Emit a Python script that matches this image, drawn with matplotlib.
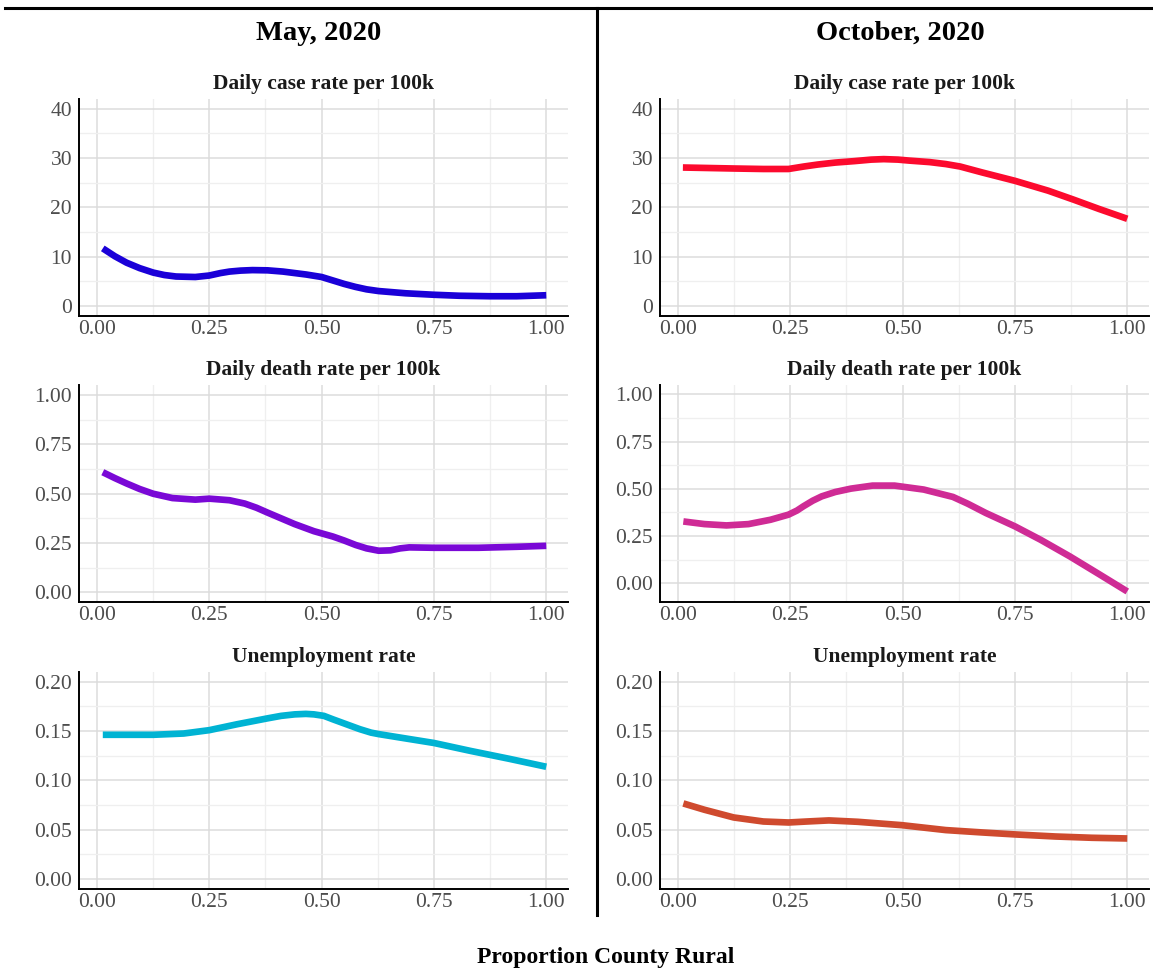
import numpy as np
import matplotlib
matplotlib.use("Agg")
import matplotlib.pyplot as plt
from matplotlib.lines import Line2D
from matplotlib.ticker import MultipleLocator

plt.rcParams['font.family'] = ['Liberation Serif', 'DejaVu Serif']

# Values (x = proportion county rural)
may_case_x = [0.013, 0.04, 0.066, 0.095, 0.125, 0.15, 0.176, 0.219, 0.25, 0.275, 0.295, 0.32, 0.346,
              0.38, 0.414, 0.466, 0.5, 0.525, 0.55, 0.575, 0.6, 0.627, 0.687, 0.75, 0.806, 0.874,
              0.934, 1.0]
may_case_y = [11.7, 10.1, 8.8, 7.7, 6.8, 6.3, 6.0, 5.9, 6.2, 6.7, 7.0, 7.2, 7.3,
              7.25, 7.0, 6.4, 5.9, 5.2, 4.5, 3.9, 3.4, 3.05, 2.6, 2.3, 2.1, 2.0,
              2.0, 2.2]

oct_case_x = [0.011, 0.124, 0.19, 0.246, 0.28, 0.311, 0.35, 0.393, 0.43, 0.458, 0.49, 0.515, 0.56,
              0.596, 0.628, 0.677, 0.75, 0.824, 0.88, 0.937, 1.0]
oct_case_y = [28.1, 27.9, 27.8, 27.8, 28.3, 28.7, 29.1, 29.4, 29.7, 29.8, 29.7, 29.5, 29.2,
              28.8, 28.3, 27.1, 25.4, 23.4, 21.6, 19.7, 17.7]

may_death_x = [0.013, 0.04, 0.066, 0.095, 0.125, 0.168, 0.219, 0.25, 0.295, 0.329, 0.355, 0.38,
               0.41, 0.44, 0.483, 0.525, 0.55, 0.576, 0.6, 0.627, 0.653, 0.675, 0.695, 0.75, 0.849,
               0.934, 1.0]
may_death_y = [0.608, 0.578, 0.551, 0.523, 0.499, 0.477, 0.469, 0.474, 0.466, 0.449, 0.428, 0.403,
               0.374, 0.345, 0.309, 0.282, 0.262, 0.239, 0.222, 0.210, 0.212, 0.222, 0.227, 0.225,
               0.225, 0.230, 0.235]

oct_death_x = [0.012, 0.059, 0.108, 0.157, 0.206, 0.246, 0.265, 0.279, 0.3, 0.32, 0.35, 0.385, 0.433,
               0.482, 0.547, 0.612, 0.645, 0.685, 0.75, 0.807, 0.872, 0.937, 1.0]
oct_death_y = [0.327, 0.313, 0.306, 0.313, 0.336, 0.363, 0.385, 0.407, 0.437, 0.46, 0.483, 0.501,
               0.517, 0.517, 0.496, 0.457, 0.421, 0.372, 0.301, 0.230, 0.142, 0.048, -0.044]

may_unemp_x = [0.013, 0.125, 0.193, 0.25, 0.312, 0.38, 0.41, 0.44, 0.465, 0.483, 0.505, 0.525,
               0.555, 0.585, 0.61, 0.627, 0.687, 0.75, 0.831, 0.917, 1.0]
may_unemp_y = [0.1463, 0.1463, 0.1476, 0.151, 0.157, 0.163, 0.1655, 0.167, 0.1675, 0.167, 0.1655, 0.162,
               0.157, 0.152, 0.1485, 0.147, 0.1426, 0.138, 0.130, 0.122, 0.1139]

oct_unemp_x = [0.012, 0.059, 0.124, 0.19, 0.246, 0.287, 0.336, 0.4, 0.498, 0.596,
               0.677, 0.75, 0.84, 0.921, 1.0]
oct_unemp_y = [0.0767, 0.0703, 0.0625, 0.0584, 0.0574, 0.0584, 0.0595, 0.0581, 0.0547, 0.0497,
               0.0473, 0.0453, 0.0432, 0.0419, 0.0412]

panel_titles = ['Daily case rate per 100k', 'Daily death rate per 100k', 'Unemployment rate']
col_titles = ['May, 2020', 'October, 2020']

fig = plt.figure(figsize=(11.53, 9.74), dpi=100)

lefts = [0.0685, 0.5724]
bottoms = [0.6756, 0.3819, 0.0873]
w, h = 0.424, 0.2228

panels = [
    # (col, row, x, y, colour, ylim, yticks, fmt)
    (0, 0, may_case_x, may_case_y, '#1a00d8', (-2, 42), [0, 10, 20, 30, 40], '{:.0f}'),
    (0, 1, may_death_x, may_death_y, '#7a08d6', (-0.05, 1.05), [0, 0.25, 0.5, 0.75, 1.0], '{:.2f}'),
    (0, 2, may_unemp_x, may_unemp_y, '#00b3d3', (-0.01, 0.21), [0, 0.05, 0.1, 0.15, 0.2], '{:.2f}'),
    (1, 0, oct_case_x, oct_case_y, '#fc0a2e', (-2, 42), [0, 10, 20, 30, 40], '{:.0f}'),
    (1, 1, oct_death_x, oct_death_y, '#cf2b95', (-0.1, 1.05), [0, 0.25, 0.5, 0.75, 1.0], '{:.2f}'),
    (1, 2, oct_unemp_x, oct_unemp_y, '#cf4a2e', (-0.01, 0.21), [0, 0.05, 0.1, 0.15, 0.2], '{:.2f}'),
]

for col, row, xs, ys, color, ylim, yticks, fmt in panels:
    ax = fig.add_axes([lefts[col], bottoms[row], w, h])
    ax.plot(xs, ys, color=color, lw=4.8, solid_capstyle='butt', solid_joinstyle='round', zorder=3)
    ax.set_xlim(-0.04, 1.048)
    ax.set_ylim(*ylim)
    ax.set_xticks([0, 0.25, 0.5, 0.75, 1.0])
    ax.set_xticklabels(['0.00', '0.25', '0.50', '0.75', '1.00'])
    ax.set_yticks(yticks)
    ax.set_yticklabels([fmt.format(t) for t in yticks])
    ax.xaxis.set_minor_locator(MultipleLocator(0.125))
    ax.yaxis.set_minor_locator(MultipleLocator((yticks[1] - yticks[0]) / 2))
    ax.grid(which='major', color='#dcdcdc', lw=1.1)
    ax.grid(which='minor', color='#efefef', lw=0.9)
    ax.set_axisbelow(True)
    for s in ['top', 'right']:
        ax.spines[s].set_visible(False)
    for s in ['left', 'bottom']:
        ax.spines[s].set_color('black')
        ax.spines[s].set_linewidth(1.4)
    ax.tick_params(which='both', length=0, labelsize=15.5, labelcolor='#4d4d4d')
    ax.tick_params(axis='x', pad=3)
    ax.tick_params(axis='y', pad=5)
    ax.set_title(panel_titles[row], fontsize=15.5, fontweight='bold', pad=7, color='#1a1a1a')

fig.text(0.276, 0.966, col_titles[0], ha='center', va='center', fontsize=20.5, fontweight='bold')
fig.text(0.781, 0.966, col_titles[1], ha='center', va='center', fontsize=20.5, fontweight='bold')
fig.text(0.525, 0.0165, 'Proportion County Rural', ha='center', va='center', fontsize=17, fontweight='bold')

# frame lines
fig.add_artist(Line2D([0.004, 1.0], [0.9918, 0.9918], color='black', lw=2.2, transform=fig.transFigure))
fig.add_artist(Line2D([0.5178, 0.5178], [0.9918, 0.0606], color='black', lw=2.2, transform=fig.transFigure))

fig.savefig('out.png', dpi=100, facecolor='white')
